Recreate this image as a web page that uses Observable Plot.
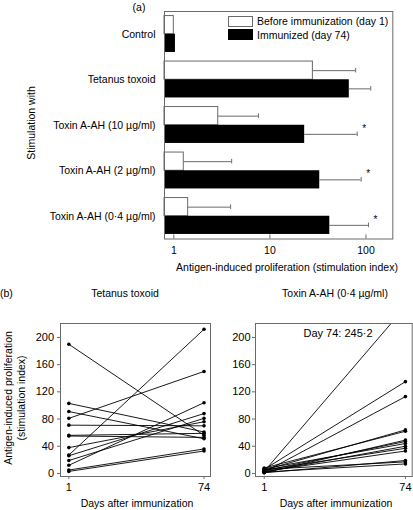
<!DOCTYPE html>
<html><head><meta charset="utf-8">
<script src="https://cdn.jsdelivr.net/npm/d3@7"></script>
<script src="https://cdn.jsdelivr.net/npm/@observablehq/plot@0.6"></script>
<style>
body{margin:0;background:#fff;}
#wrap{position:relative;width:413px;height:510px;overflow:hidden;font-family:"Liberation Sans",Arial,Helvetica,sans-serif;color:#000;background:#fff;}
#wrap svg{position:absolute;}
.abs{position:absolute;white-space:nowrap;line-height:1;}
</style></head><body><div id="wrap"></div>
<script>
// ---------- Panel (a) data ----------
const categories = ["Control", "Tetanus toxoid", "Toxin A-AH (10 µg/ml)", "Toxin A-AH (2 µg/ml)", "Toxin A-AH (0·4 µg/ml)"];
const beforeMean = [1.0, 28, 2.9, 1.27, 1.41];
const beforeUpper = [null, 78, 7.6, 4.0, 3.9];
const afterMean = [1.04, 67, 23, 33, 42];
const afterUpper = [null, 112, 81, 89, 106];
const significant = [false, false, true, true, true];
const seriesNames = ["Before immunization (day 1)", "Immunized (day 74)"];
const xTicksA = [1, 10, 100];
const xDomainA = [0.8, 190];

// ---------- Panel (b) data ----------
const days = [1, 74];
const yTicksB = [0, 40, 80, 120, 160, 200];
const ttDay1  = [190, 103, 91, 81, 71, 56, 55, 38, 27, 26, 19, 12, 5, 3];
const ttDay74 = [56, 61, 51, 150, 70, 59, 53, 76, 212, 88, 81, 104, 36, 33];
const taDay1  = [3, 6, 2, 5, 8, 1, 4, 7, 2, 5, 3, 1, 6, 2];
const taDay74 = [245.2, 135, 113, 64, 62, 49, 47, 44, 40, 37, 33, 19, 17, 14];

const wrap = document.getElementById("wrap");
const FONT = '"Liberation Sans", Arial, Helvetica, sans-serif';
const GRAY = "#6a6a6a";

function place(svg, left, top) { svg.style.left = left + "px"; svg.style.top = top + "px"; wrap.append(svg); }
function label(text, x, y, opts = {}) {
  const d = document.createElement("div");
  d.className = "abs";
  d.textContent = text;
  d.style.left = x + "px"; d.style.top = y + "px";
  d.style.fontSize = (opts.size || 10.5) + "px";
  const tx = opts.anchor === "start" ? "0" : opts.anchor === "end" ? "-100%" : "-50%";
  d.style.transform = `translate(${tx},-50%)`;
  if (opts.rotate) d.style.transform = "translate(-50%,-50%) rotate(-90deg)";
  wrap.append(d);
}

// ---------- Panel (a) ----------
const rowsA = categories.map((c, i) => ({i, c, before: beforeMean[i], bUp: beforeUpper[i], after: afterMean[i], aUp: afterUpper[i], sig: significant[i]}));
const errB = rowsA.filter(d => d.bUp != null);
const errA = rowsA.filter(d => d.aUp != null);

const plotA = Plot.plot({
  width: 413, height: 260,
  marginTop: 11, marginBottom: 21.5, marginLeft: 164, marginRight: 20.7,
  style: {fontFamily: FONT, fontSize: "10.5px", background: "transparent", overflow: "visible"},
  x: {type: "log", domain: xDomainA, label: null},
  y: {domain: [-0.5, 4.5], reverse: true, label: null},
  marks: [
    Plot.rect(rowsA, {x1: () => xDomainA[0], x2: "before", y1: d => d.i - 0.4, y2: d => d.i, fill: "#fff", stroke: GRAY, strokeWidth: 1}),
    Plot.rect(rowsA, {x1: () => xDomainA[0], x2: "after", y1: d => d.i, y2: d => d.i + 0.4, fill: "#000"}),
    Plot.ruleY(errB, {y: d => d.i - 0.2, x1: "before", x2: "bUp", stroke: GRAY, strokeWidth: 1}),
    Plot.ruleX(errB, {x: "bUp", y1: d => d.i - 0.25, y2: d => d.i - 0.15, stroke: GRAY, strokeWidth: 1}),
    Plot.ruleY(errA, {y: d => d.i + 0.2, x1: "after", x2: "aUp", stroke: GRAY, strokeWidth: 1}),
    Plot.ruleX(errA, {x: "aUp", y1: d => d.i + 0.15, y2: d => d.i + 0.25, stroke: GRAY, strokeWidth: 1}),
    Plot.text(rowsA.filter(d => d.sig), {x: "aUp", y: "i", text: () => "*", dx: 7, dy: 3.5, fontSize: 10, fill: "#000"}),
    Plot.ruleX(xTicksA, {x: d => d, y1: 4.5, y2: 4.41, stroke: GRAY}),
    Plot.frame({stroke: GRAY}),
    Plot.axisX({ticks: xTicksA, tickSize: 0, tickPadding: 8, tickFormat: d3.format("d")}),
    Plot.axisY({ticks: d3.range(categories.length), tickSize: 0, tickPadding: 9, tickFormat: i => categories[i]})
  ]
});
place(plotA, 0, 0);

label("(a)", 139, 7);
label("Antigen-induced proliferation (stimulation index)", 287, 267);
label("Stimulation with", 31, 123, {rotate: true});

// legend
function legendRow(name, fill, top) {
  const box = document.createElement("div");
  box.style.cssText = `position:absolute;left:228px;top:${top}px;width:23px;height:9px;background:${fill};border:1px solid ${fill === "#000" ? "#000" : GRAY};`;
  wrap.append(box);
  label(name, 257, top + 5.5, {anchor: "start"});
}
legendRow(seriesNames[0], "#fff", 15.5);
legendRow(seriesNames[1], "#000", 29);

// ---------- Panel (b) ----------
function longRows(d1, d74) {
  return d1.flatMap((v, i) => [{id: i, day: days[0], v}, {id: i, day: days[1], v: d74[i]}]);
}
function panelB(rows, opts) {
  return Plot.plot({
    width: opts.width, height: 210,
    marginTop: 23, marginBottom: 34, marginLeft: opts.ml, marginRight: opts.mr,
    style: {fontFamily: FONT, fontSize: "11px", background: "transparent", overflow: "visible"},
    x: {domain: [-3.5, 77.5], label: null},
    y: {domain: [-4.5, 220.5], label: null},
    marks: [
      Plot.line(rows, {x: "day", y: "v", z: "id", stroke: "#000", strokeWidth: 0.9, clip: true}),
      Plot.dot(rows, {x: "day", y: "v", r: 1.8, fill: "#000", clip: true}),
      Plot.frame({stroke: GRAY}),
      Plot.axisX({ticks: days, tickSize: 3, tickPadding: 4, stroke: GRAY}),
      Plot.axisY({ticks: yTicksB, tickSize: 3, tickPadding: opts.tp, stroke: GRAY})
    ]
  });
}
place(panelB(longRows(ttDay1, ttDay74), {width: 215, ml: 60, mr: 5, tp: 3.5}), 0, 300);
place(panelB(longRows(taDay1, taDay74), {width: 198, ml: 40, mr: 1.3, tp: 2}), 215, 300);

label("(b)", 0, 293, {anchor: "start"});
label("Tetanus toxoid", 125, 293);
label("Toxin A-AH (0·4 µg/ml)", 335, 293);
label("Days after immunization", 137, 503);
label("Days after immunization", 336, 503);
label("Antigen-induced proliferation", 8, 398, {rotate: true});
label("(stimulation index)", 21, 398, {rotate: true});
label("Day 74: " + String(taDay74[0]).replace(".", "·"), 338, 333, {size: 11});
</script>
</body></html>
